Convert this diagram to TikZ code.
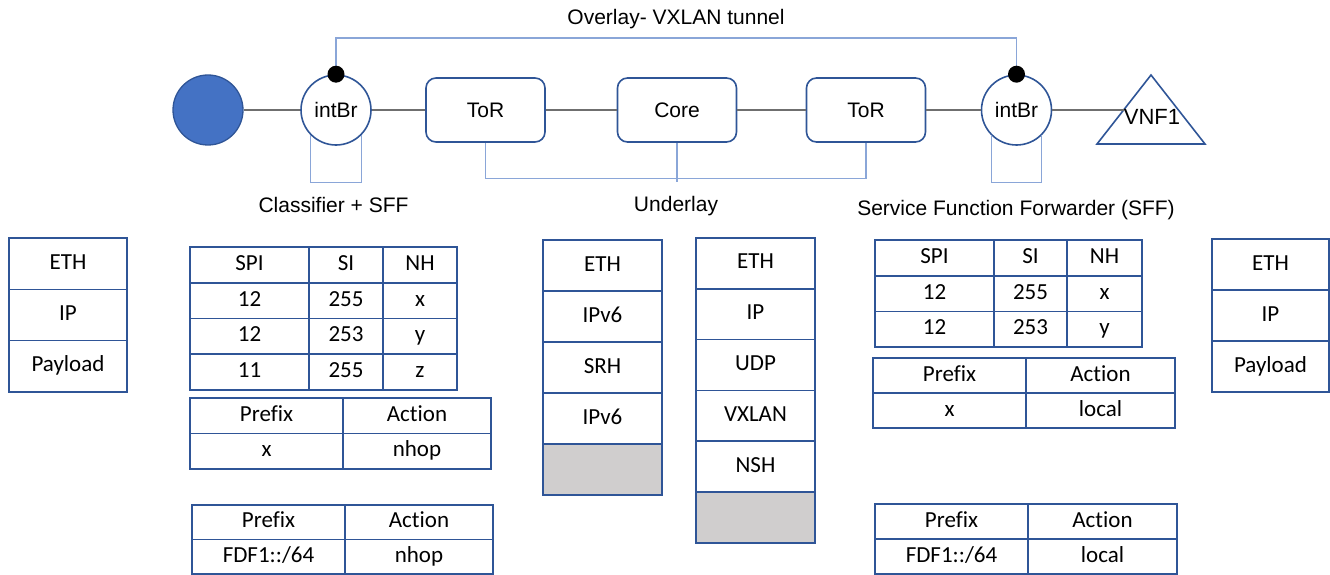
\documentclass[tikz,border=0pt]{standalone}
\usepackage{fontspec}
\setmainfont{Liberation Sans}
\newfontfamily\cellfont{Carlito}[Ligatures=NoCommon]
\usetikzlibrary{matrix}
\definecolor{boxblue}{HTML}{2F5597}
\definecolor{hostblue}{HTML}{4472C4}
\definecolor{linkgray}{HTML}{6F6F6F}
\definecolor{tunnelblue}{HTML}{8AA6D8}
\definecolor{cellgray}{HTML}{D0CECE}
\begin{document}
\begin{tikzpicture}[x=1pt,y=-1pt,
	lbl/.style={font=\fontsize{21}{25}\selectfont,inner sep=0pt},
	dev/.style={draw=boxblue,line width=1.6pt,fill=white,rounded corners=10pt,minimum width=119pt,minimum height=64pt,lbl},
	br/.style={draw=boxblue,line width=1.6pt,fill=white,circle,minimum size=70pt,lbl},
	dot/.style={circle,fill=black,minimum size=17pt,inner sep=0pt},
	link/.style={draw=linkgray,line width=1.3pt},
	tunnel/.style={draw=tunnelblue,line width=1.3pt},
	cell/.style={draw=boxblue,line width=1.6pt,outer sep=0pt,inner sep=0pt,anchor=center,
		font=\cellfont\fontsize{23}{27}\selectfont,text height=15pt,text depth=4pt},
	tbl/.style={matrix of nodes,nodes={cell,minimum height=#1},inner sep=0pt,anchor=north west,
		row sep=-1.6pt,column sep=-1.6pt},
	cols/.style 2 args={column 1/.style={nodes={minimum width=#1}},column 2/.style={nodes={minimum width=#2}}},
	]
	\useasboundingbox (0,0) rectangle (1330,575);
	\node[circle,draw=boxblue,line width=1.3pt,fill=hostblue,minimum size=70pt] (host) at (208,110) {};
	\node[br] (ibl) at (336,110) {intBr};
	\node[dev] (torl) at (485.5,110) {ToR};
	\node[dev] (core) at (677,110) {Core};
	\node[dev] (torr) at (866,110) {ToR};
	\node[br] (ibr) at (1016.5,110) {intBr};
	\draw[boxblue,line width=1.6pt] (1151,75) -- (1205,144) -- (1097,144) -- cycle;
	\node[lbl,font=\fontsize{22}{26}\selectfont] (vnf) at (1152,117) {VNF1};
	\coordinate (ovl) at (676,38);
	\node[lbl,anchor=base] (ovltxt) at (676,25) {Overlay- VXLAN tunnel};
	\draw[link] (host) -- (ibl) -- (torl) -- (core) -- (torr) -- (ibr) -- (ibr.east -| vnf.west);
	\draw[tunnel] (ibl.north) -- (ibl.north |- ovl) -| (ibr.north);
	\node[dot] (dotl) at (ibl.north) {};
	\node[dot] (dotr) at (ibr.north) {};
	\draw[tunnel] (ibl.-135) -- ++(0,47) -| (ibl.-45);
	\draw[tunnel] (ibr.-135) -- ++(0,47) -| (ibr.-45);
	\draw[tunnel] (torl.south) -- ++(0,36) -| (torr.south) (core.south) -- ++(0,39);
	\node[lbl,anchor=base] (clstxt) at (333.5,212) {Classifier + SFF};
	\node[lbl,anchor=base] (undtxt) at (676,211) {Underlay};
	\node[lbl,anchor=base] (sfftxt) at (1016,215) {Service Function Forwarder (SFF)};
	\matrix[tbl=51.3pt,nodes={minimum width=118pt}] (pktl) at (8,237) {
		ETH \\ IP \\ Payload \\
	};
	\matrix[tbl=35.7pt,cols={119pt}{74pt},column 3/.style={nodes={minimum width=74pt}}] (spil) at (189,246) {
		SPI & SI & NH \\
		12 & 255 & x \\
		12 & 253 & y \\
		11 & 255 & z \\
	};
	\matrix[tbl=35.5pt,cols={153pt}{148pt}] (pfxl) at (189,397) {
		Prefix & Action \\
		x & nhop \\
	};
	\matrix[tbl=34.5pt,cols={153pt}{148pt}] (fdfl) at (191,504) {
		Prefix & Action \\
		FDF1::/64 & nhop \\
	};
	\matrix[tbl=51pt,nodes={minimum width=119pt}] (pkts) at (542,239) {
		ETH \\ IPv6 \\ SRH \\ IPv6 \\ |[fill=cellgray]| \phantom{X} \\
	};
	\matrix[tbl=50.8pt,nodes={minimum width=119pt}] (pktv) at (695,237) {
		ETH \\ IP \\ UDP \\ VXLAN \\ NSH \\ |[fill=cellgray]| \phantom{X} \\
	};
	\matrix[tbl=35.7pt,cols={119pt}{73pt},column 3/.style={nodes={minimum width=75pt}}] (spir) at (874,239) {
		SPI & SI & NH \\
		12 & 255 & x \\
		12 & 253 & y \\
	};
	\matrix[tbl=35pt,cols={153pt}{149pt}] (pfxr) at (872,357) {
		Prefix & Action \\
		x & local \\
	};
	\matrix[tbl=35pt,cols={153pt}{149pt}] (fdfr) at (874,503) {
		Prefix & Action \\
		FDF1::/64 & local \\
	};
	\matrix[tbl=51pt,nodes={minimum width=117pt}] (pktr) at (1211,238) {
		ETH \\ IP \\ Payload \\
	};
\end{tikzpicture}
\end{document}
